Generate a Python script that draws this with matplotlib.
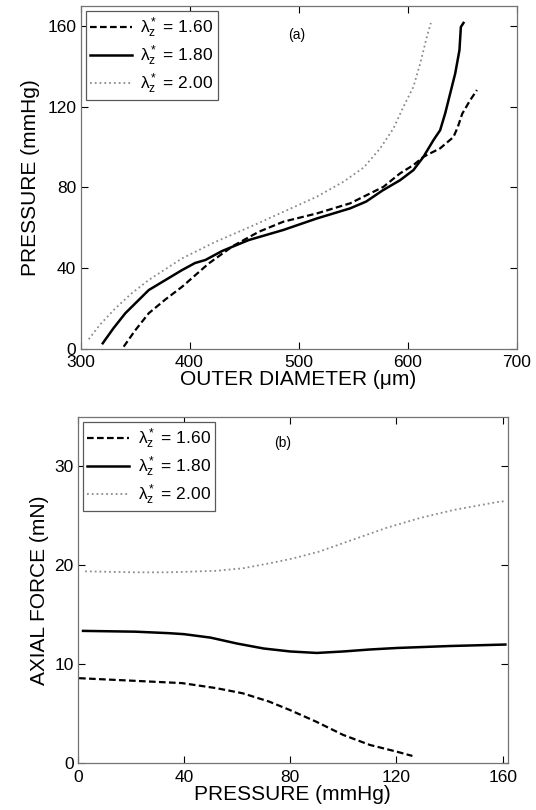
import matplotlib
matplotlib.use("Agg")
import matplotlib.pyplot as plt

plt.rcParams["font.family"] = ["Liberation Sans", "DejaVu Sans"]
plt.rcParams["mathtext.fontset"] = "custom"
plt.rcParams["mathtext.rm"] = "Liberation Sans"
plt.rcParams["mathtext.it"] = "Liberation Sans"
plt.rcParams["mathtext.default"] = "regular"

labels = [r"$\lambda_z^*$ = 1.60", r"$\lambda_z^*$ = 1.80", r"$\lambda_z^*$ = 2.00"]

# (a) pressure vs outer diameter
d_160 = [339.6, 350, 362.6, 378, 393.1, 417.6, 440, 463.5, 486, 516.7, 547.2, 577.8,
         593.1, 605.3, 614.5, 629.8, 642, 646, 650, 657, 663.5]
p_160 = [1.0, 9, 17.6, 24.5, 30.7, 42.3, 51, 58.0, 63, 67.1, 72.1, 80.3,
         87, 91.1, 95.2, 99.4, 105, 110, 116.5, 123, 128.3]
d_180 = [320.4, 330, 341.1, 362.6, 393.1, 405, 414.5, 430, 454.3, 486, 516.7, 547.2, 562,
         577, 593.1, 605.3, 614.5, 623.7, 629.8, 634.4, 639, 643.6, 647.5, 648.8, 651.2]
p_180 = [2.7, 10, 17.6, 29.1, 39.0, 42.5, 44.0, 48.5, 53.9, 58.9, 64.6, 69.6, 73,
         78.5, 83.6, 88.6, 95.2, 103.5, 108.4, 116.7, 126.6, 136.5, 148.1, 159.6, 161.6]
d_200 = [307.5, 318, 331.9, 347, 362.6, 393.1, 423.7, 460, 486, 516.7, 541, 560, 574.8,
         587, 596.1, 605.3, 611.5, 617.6, 621.3]
p_200 = [4.7, 12, 20.0, 27.5, 34.1, 44.8, 53.0, 61.5, 67.9, 75.4, 82.8, 90, 99.4,
         109.3, 120, 129.9, 141.5, 154.7, 161.6]

# (b) axial force vs pressure
pb_160 = [0.5, 21.7, 39.3, 52, 62, 72, 79.7, 89.8, 99.9, 110, 120, 126]
f_160 = [8.6, 8.33, 8.1, 7.6, 7.08, 6.24, 5.4, 4.2, 2.87, 1.85, 1.18, 0.74]
pb_180 = [2, 21.7, 34.3, 40, 50, 60, 70, 80, 90, 100, 110, 120, 140, 161]
f_180 = [13.38, 13.3, 13.15, 13.05, 12.7, 12.1, 11.6, 11.3, 11.15, 11.3, 11.5, 11.65, 11.85, 12.0]
pb_200 = [2.8, 21.7, 34.3, 52, 62, 72, 81, 91, 103.6, 116.3, 129, 141.5, 157.9, 161]
f_200 = [19.4, 19.3, 19.3, 19.45, 19.7, 20.2, 20.7, 21.4, 22.6, 23.8, 24.8, 25.6, 26.4, 26.5]

fig = plt.figure(figsize=(5.36, 8.10), dpi=100)
ax1 = fig.add_axes([0.1502, 0.5695, 0.8138, 0.4231])
ax2 = fig.add_axes([0.145, 0.0577, 0.8028, 0.4275])


def style(ax):
    ax.tick_params(direction="in", top=True, right=True, length=5, labelsize=12.5)
    ax.tick_params(axis="x", pad=4.5)
    ax.tick_params(axis="y", pad=3)
    for s in ax.spines.values():
        s.set_linewidth(0.9)
        s.set_color("0.45")


ax1.plot(d_160, p_160, color="black", ls=(0, (3, 1.5)), lw=1.6, label=labels[0])
ax1.plot(d_180, p_180, color="black", ls="-", lw=1.8, label=labels[1])
ax1.plot(d_200, p_200, color="0.55", ls=":", lw=1.3, label=labels[2])
ax1.set_xlim(300, 700)
ax1.set_ylim(0, 170)
ax1.set_xticks([300, 400, 500, 600, 700])
ax1.set_yticks([0, 40, 80, 120, 160])
ax1.set_xlabel("OUTER DIAMETER (\u03bcm)", fontsize=15, labelpad=0)
ax1.set_ylabel("PRESSURE (mmHg)", fontsize=15, labelpad=5)
ax1.text(498, 155.8, "(a)", fontsize=10, ha="center", va="center")
style(ax1)

ax2.plot(pb_160, f_160, color="black", ls=(0, (3, 1.5)), lw=1.6, label=labels[0])
ax2.plot(pb_180, f_180, color="black", ls="-", lw=1.8, label=labels[1])
ax2.plot(pb_200, f_200, color="0.55", ls=":", lw=1.3, label=labels[2])
ax2.set_xlim(0, 162)
ax2.set_ylim(0, 35)
ax2.set_xticks([0, 40, 80, 120, 160])
ax2.set_yticks([0, 10, 20, 30])
ax2.set_xlabel("PRESSURE (mmHg)", fontsize=15, labelpad=0)
ax2.set_ylabel("AXIAL FORCE (mN)", fontsize=15, labelpad=4)
ax2.text(77, 32.4, "(b)", fontsize=10, ha="center", va="center")
style(ax2)

for ax in (ax1, ax2):
    leg = ax.legend(loc="upper left", fontsize=12.5, fancybox=False, framealpha=1,
                    edgecolor="0.35", handlelength=2.4, borderaxespad=0.3,
                    labelspacing=0.2, borderpad=0.25, handletextpad=0.5)
    leg.get_frame().set_linewidth(0.9)

fig.savefig("out.png", dpi=100)
